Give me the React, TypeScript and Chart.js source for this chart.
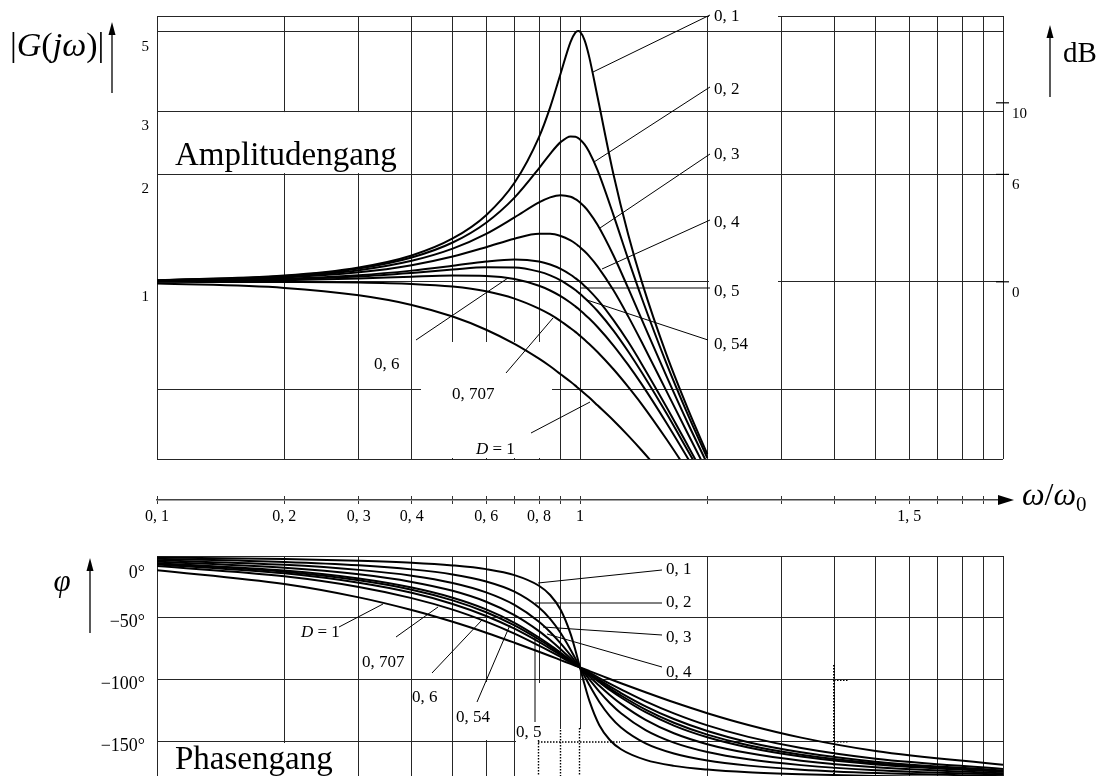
import React, { useEffect, useRef } from "react";
import { Chart, registerables } from "chart.js";

Chart.register(...registerables);

// ---------------- data ----------------
const dampingLabels = ["0, 1", "0, 2", "0, 3", "0, 4", "0, 5", "0, 54", "0, 6", "0, 707", "D = 1"];

// frequency ratio ω/ω0 at which the amplitude curves are read
const ampOmega = [0.1, 0.2, 0.3, 0.4, 0.5, 0.6, 0.7, 0.8, 0.85, 0.9, 0.95, 0.975, 0.99, 1, 1.025, 1.05, 1.1, 1.2, 1.3, 1.4, 1.6, 1.8, 2];
const ampD010 = [1.010, 1.041, 1.097, 1.185, 1.322, 1.536, 1.891, 2.538, 3.073, 3.821, 4.683, 4.971, 5.025, 5.000, 4.736, 4.279, 3.288, 1.995, 1.356, 1.000, 0.628, 0.441, 0.330];
const ampD020 = [1.009, 1.038, 1.090, 1.170, 1.288, 1.463, 1.719, 2.076, 2.279, 2.457, 2.549, 2.544, 2.522, 2.500, 2.421, 2.313, 2.051, 1.536, 1.157, 0.900, 0.593, 0.425, 0.322];
const ampD030 = [1.008, 1.034, 1.078, 1.145, 1.238, 1.362, 1.514, 1.667, 1.722, 1.747, 1.729, 1.703, 1.683, 1.667, 1.621, 1.567, 1.444, 1.185, 0.960, 0.784, 0.546, 0.402, 0.310];
const ampD040 = [1.007, 1.028, 1.063, 1.113, 1.177, 1.250, 1.320, 1.362, 1.362, 1.343, 1.305, 1.280, 1.262, 1.250, 1.217, 1.182, 1.105, 0.947, 0.801, 0.678, 0.496, 0.376, 0.294];
const ampD050 = [1.005, 1.020, 1.044, 1.075, 1.109, 1.140, 1.155, 1.140, 1.118, 1.087, 1.047, 1.024, 1.010, 1.000, 0.974, 0.948, 0.893, 0.782, 0.680, 0.589, 0.448, 0.348, 0.277];
const ampD054 = [1.004, 1.016, 1.035, 1.059, 1.082, 1.098, 1.097, 1.068, 1.043, 1.010, 0.970, 0.949, 0.935, 0.926, 0.902, 0.878, 0.829, 0.731, 0.639, 0.558, 0.430, 0.337, 0.271];
const ampD060 = [1.003, 1.011, 1.022, 1.034, 1.041, 1.038, 1.018, 0.975, 0.946, 0.912, 0.874, 0.854, 0.842, 0.833, 0.812, 0.791, 0.748, 0.664, 0.586, 0.517, 0.404, 0.321, 0.260];
const ampD0707 = [1.000, 0.999, 0.996, 0.987, 0.970, 0.941, 0.898, 0.842, 0.811, 0.777, 0.742, 0.725, 0.714, 0.707, 0.689, 0.672, 0.637, 0.570, 0.509, 0.455, 0.364, 0.295, 0.243];
const ampD100 = [0.990, 0.962, 0.917, 0.862, 0.800, 0.735, 0.671, 0.610, 0.581, 0.552, 0.526, 0.513, 0.505, 0.500, 0.488, 0.476, 0.452, 0.410, 0.372, 0.338, 0.281, 0.236, 0.200];

// frequency ratio ω/ω0 at which the phase curves are read (degrees)
const phaseOmega = [0.1, 0.2, 0.3, 0.4, 0.5, 0.6, 0.7, 0.8, 0.85, 0.9, 0.95, 0.975, 1, 1.026, 1.053, 1.111, 1.176, 1.25, 1.429, 1.667, 2, 2.5, 3.333, 5, 10];
const phD010 = [-1.2, -2.4, -3.8, -5.4, -7.6, -10.6, -15.4, -24.0, -31.5, -43.4, -62.8, -75.8, -90, -104.2, -117.2, -136.6, -148.5, -156.0, -164.6, -169.4, -172.4, -174.6, -176.2, -177.6, -178.8];
const phD020 = [-2.3, -4.8, -7.5, -10.8, -14.9, -20.6, -28.8, -41.6, -50.8, -62.2, -75.6, -82.8, -90, -97.2, -104.4, -117.8, -129.2, -138.4, -151.2, -159.4, -165.1, -169.2, -172.5, -175.2, -177.7];
const phD030 = [-3.5, -7.1, -11.2, -15.9, -21.8, -29.4, -39.5, -53.1, -61.4, -70.6, -80.3, -85.2, -90, -94.8, -99.7, -109.4, -118.6, -126.9, -140.5, -150.6, -158.2, -164.1, -168.8, -172.9, -176.5];
const phD040 = [-4.6, -9.5, -14.8, -20.9, -28.1, -36.9, -47.7, -60.6, -67.8, -75.2, -82.7, -86.4, -90, -93.6, -97.3, -104.8, -112.2, -119.4, -132.3, -143.1, -151.9, -159.1, -165.2, -170.5, -175.4];
const phD050 = [-5.8, -11.8, -18.2, -25.5, -33.7, -43.1, -53.9, -65.8, -71.9, -78.1, -84.1, -87.1, -90, -92.9, -95.9, -101.9, -108.1, -114.2, -126.1, -136.9, -146.3, -154.5, -161.8, -168.2, -174.2];
const phD054 = [-6.2, -12.7, -19.6, -27.2, -35.8, -45.4, -56.0, -67.4, -73.2, -78.9, -84.6, -87.3, -90, -92.7, -95.4, -101.1, -106.8, -112.6, -124.0, -134.6, -144.2, -152.8, -160.4, -167.3, -173.8];
const phD060 = [-6.9, -14.0, -21.6, -29.7, -38.7, -48.4, -58.7, -69.4, -74.8, -80.0, -85.1, -87.6, -90, -92.4, -94.9, -100.0, -105.2, -110.6, -121.3, -131.6, -141.3, -150.3, -158.4, -166.0, -173.1];
const phD0707 = [-8.1, -16.4, -25.0, -34.0, -43.3, -53.0, -62.7, -72.4, -77.0, -81.5, -85.9, -88.0, -90, -92.0, -94.1, -98.5, -103.0, -107.6, -117.3, -127.0, -136.7, -146.0, -155.0, -163.6, -171.9];
const phD100 = [-11.4, -22.6, -33.4, -43.6, -53.1, -61.9, -70.0, -77.3, -80.7, -84.0, -87.1, -88.6, -90, -91.4, -92.9, -96.0, -99.3, -102.7, -110.0, -118.1, -126.9, -136.4, -146.6, -157.4, -168.6];

// axes
const gridOmega = [0.1, 0.2, 0.3, 0.4, 0.5, 0.6, 0.7, 0.8, 0.9, 1, 2, 3, 4, 5, 6, 7, 8, 9, 10];
const axisTickValues = [0.1, 0.2, 0.3, 0.4, 0.5, 0.6, 0.7, 0.8, 0.9, 1, 2, 3, 4, 5, 6, 7, 8, 9];
const axisTickLabels = ["0, 1", "0, 2", "0, 3", "0, 4", "", "0, 6", "", "0, 8", "", "1", "", "", "", "", "1, 5", "", "", ""];
const ampGridValues = [0.5, 1, 2, 3, 5];
const ampTickValues = [5, 3, 2, 1];
const ampTickLabels = ["5", "3", "2", "1"];
const dbTickValues = [10, 6, 0];
const dbTickLabels = ["10", "6", "0"];
const phaseGridValues = [-150, -100, -50];
const phaseTickValues = [0, -50, -100, -150];
const phaseTickLabels = ["0°", "−50°", "−100°", "−150°"];

const AMP_MIN = 0.32;
const AMP_MAX = 5.53;
const DB_MIN = -9.9;
const DB_MAX = 14.85;
const PH_MIN = -180;
const PH_MAX = 0;

// ---------------- drawing helpers ----------------
const SERIF = '"Liberation Serif", "Times New Roman", serif';
const GRID = "#262626";
const fnt = (s: number, it = false) => `${it ? "italic " : ""}${s}px ${SERIF}`;

type Part = { t: string; s: number; it?: boolean; dy?: number };

function rich(ctx: any, parts: Part[], x: number, y: number, align = "left", base = "middle") {
  let w = 0;
  for (const p of parts) {
    ctx.font = fnt(p.s, p.it);
    w += ctx.measureText(p.t).width;
  }
  let cx = align === "left" ? x : align === "right" ? x - w : x - w / 2;
  ctx.save();
  ctx.fillStyle = "#000";
  ctx.textAlign = "left";
  ctx.textBaseline = base;
  for (const p of parts) {
    ctx.font = fnt(p.s, p.it);
    ctx.fillText(p.t, cx, y + (p.dy || 0));
    cx += ctx.measureText(p.t).width;
  }
  ctx.restore();
}

function seg(ctx: any, x1: number, y1: number, x2: number, y2: number, w = 1, color = "#000", dash: number[] = []) {
  ctx.save();
  ctx.beginPath();
  ctx.strokeStyle = color;
  ctx.lineWidth = w;
  ctx.setLineDash(dash);
  ctx.moveTo(x1, y1);
  ctx.lineTo(x2, y2);
  ctx.stroke();
  ctx.restore();
}

function arrowUp(ctx: any, x: number, top: number, bottom: number) {
  seg(ctx, x, bottom, x, top + 8, 1.3);
  ctx.save();
  ctx.fillStyle = "#000";
  ctx.beginPath();
  ctx.moveTo(x, top);
  ctx.lineTo(x - 3.5, top + 13);
  ctx.lineTo(x + 3.5, top + 13);
  ctx.closePath();
  ctx.fill();
  ctx.restore();
}

function label(ctx: any, text: string, x: number, y: number, size = 17) {
  if (text.startsWith("D")) {
    rich(ctx, [{ t: "D", s: size, it: true }, { t: " = 1", s: size }], x, y);
  } else {
    rich(ctx, [{ t: text, s: size }], x, y);
  }
}

const setTicks = (vals: number[]) => (s: any) => {
  s.ticks = vals.map((v) => ({ value: v }));
};

function curveSets(xs: number[], series: number[][]) {
  return series.map((ys, i) => ({
    label: dampingLabels[i],
    data: xs.map((x, k) => ({ x, y: ys[k] })),
    borderColor: "#000",
    borderWidth: 2,
    pointRadius: 0,
    fill: false,
    cubicInterpolationMode: "monotone",
    clip: 0,
  }));
}

const baseOpts = {
  animation: false,
  responsive: false,
  maintainAspectRatio: false,
  devicePixelRatio: 1,
  events: [],
  plugins: { legend: { display: false }, tooltip: { enabled: false }, title: { display: false } },
};

const xGridScale = () => ({
  type: "logarithmic",
  bounds: "data",
  min: 0.1,
  max: 10,
  position: "bottom",
  afterBuildTicks: setTicks(gridOmega),
  afterFit: (s: any) => { s.height = 0; },
  ticks: { display: false },
  grid: { color: GRID, lineWidth: 1, drawTicks: false },
  border: { display: false },
});

// ---------------- amplitude decoration ----------------
const ampNotes = [
  { i: 0, tx: 714, ty: 17, a: [593, 72], b: [710, 15] },
  { i: 1, tx: 714, ty: 90, a: [594, 162], b: [710, 87] },
  { i: 2, tx: 714, ty: 155, a: [600, 228], b: [710, 154] },
  { i: 3, tx: 714, ty: 223, a: [602, 269], b: [710, 220] },
  { i: 4, tx: 714, ty: 292, a: [580, 288], b: [710, 288] },
  { i: 5, tx: 714, ty: 345, a: [587, 300], b: [708, 340] },
  { i: 6, tx: 374, ty: 365, a: [416, 340], b: [508, 278] },
  { i: 7, tx: 452, ty: 395, a: [506, 373], b: [553, 318] },
  { i: 8, tx: 476, ty: 450, a: [531, 433], b: [590, 402] },
];

const ampDecor = {
  id: "ampDecor",
  beforeDatasetsDraw(chart: any) {
    const { ctx, chartArea: a, scales } = chart;
    const y3 = scales.y.getPixelForValue(3);
    const y2 = scales.y.getPixelForValue(2);
    ctx.save();
    ctx.fillStyle = "#fff";
    ctx.fillRect(a.left + 1, y3 + 1, 405 - a.left - 1, y2 - y3 - 2);
    ctx.fillRect(421, 342, 131, a.bottom - 342 - 1);
    ctx.fillRect(709, 0, 69, 27);
    ctx.fillRect(709, 277, 69, 20);
    ctx.restore();
  },
  afterDraw(chart: any) {
    const { ctx, chartArea: a, scales } = chart;
    for (const n of ampNotes) seg(ctx, n.a[0], n.a[1], n.b[0], n.b[1], 1);
    for (const n of ampNotes) label(ctx, dampingLabels[n.i], n.tx, n.ty);
    ampTickValues.forEach((v, i) => {
      rich(ctx, [{ t: ampTickLabels[i], s: 15 }], 149, scales.y.getPixelForValue(v) + 15, "right");
    });
    dbTickValues.forEach((v, i) => {
      const py = scales.db.getPixelForValue(v);
      seg(ctx, a.right - 7, py, a.right + 6, py, 1.2);
      rich(ctx, [{ t: dbTickLabels[i], s: 15 }], a.right + 9, py + 11);
    });
    rich(ctx, [{ t: "Amplitudengang", s: 33 }], 175, 165, "left", "alphabetic");
    rich(
      ctx,
      [
        { t: "|", s: 34 },
        { t: "G", s: 34, it: true },
        { t: "(", s: 34 },
        { t: "jω", s: 34, it: true },
        { t: ")", s: 34 },
        { t: "|", s: 34 },
      ],
      10,
      47
    );
    arrowUp(ctx, 112, 22, 93);
    rich(ctx, [{ t: "dB", s: 29 }], 1063, 54);
    arrowUp(ctx, 1050, 25, 97);
  },
};

// ---------------- middle axis decoration ----------------
const axisDecor = {
  id: "axisDecor",
  afterDraw(chart: any) {
    const { ctx, chartArea: a } = chart;
    const y = a.bottom;
    seg(ctx, a.right, y, 1001, y, 1.6, "#444");
    ctx.save();
    ctx.fillStyle = "#000";
    ctx.beginPath();
    ctx.moveTo(998, y - 5);
    ctx.lineTo(1014, y);
    ctx.lineTo(998, y + 5);
    ctx.closePath();
    ctx.fill();
    ctx.restore();
    rich(
      ctx,
      [
        { t: "ω", s: 32, it: true },
        { t: "/", s: 32 },
        { t: "ω", s: 32, it: true },
        { t: "0", s: 21, dy: 8 },
      ],
      1022,
      y - 3
    );
  },
};

// ---------------- phase decoration ----------------
const PH_TOP = 540;
const phaseNotes = [
  { i: 0, tx: 666, ty: 570, a: [538, 583], b: [662, 570] },
  { i: 1, tx: 666, ty: 603, a: [535, 603], b: [662, 603] },
  { i: 2, tx: 666, ty: 638, a: [543, 627], b: [662, 635] },
  { i: 3, tx: 666, ty: 673, a: [547, 634], b: [662, 667] },
  { i: 4, tx: 516, ty: 733, a: [535, 722], b: [535, 637] },
  { i: 5, tx: 456, ty: 718, a: [477, 702], b: [510, 625] },
  { i: 6, tx: 412, ty: 698, a: [432, 673], b: [482, 620] },
  { i: 7, tx: 362, ty: 663, a: [396, 637], b: [438, 607] },
  { i: 8, tx: 301, ty: 633, a: [339, 627], b: [383, 604] },
];

const phaseDecor = {
  id: "phaseDecor",
  beforeDatasetsDraw(chart: any) {
    const { ctx } = chart;
    const o = PH_TOP;
    ctx.save();
    ctx.fillStyle = "#fff";
    ctx.fillRect(158, 743 - o, 198, 60);
    ctx.fillRect(455, 682 - o, 40, 58);
    ctx.fillRect(532, 683 - o, 13, 120);
    ctx.fillRect(548, 729 - o, 73, 80);
    ctx.fillRect(516, 724 - o, 32, 80);
    ctx.restore();
    const dot = [1.5, 1.5];
    seg(ctx, 538.5, 740 - o, 538.5, 790 - o, 1.4, "#000", dot);
    seg(ctx, 560.5, 730 - o, 560.5, 790 - o, 1.4, "#000", dot);
    seg(ctx, 579.5, 728 - o, 579.5, 790 - o, 1.4, "#000", dot);
    seg(ctx, 538, 742 - o, 620, 742 - o, 1.4, "#000", dot);
    seg(ctx, 834, 665 - o, 834, 790 - o, 2, "#000", dot);
    seg(ctx, 834, 680.5 - o, 848, 680.5 - o, 1.2, "#000", dot);
    seg(ctx, 834, 742 - o, 848, 742 - o, 1.2, "#000", dot);
  },
  afterDraw(chart: any) {
    const { ctx, chartArea: a, scales } = chart;
    const o = PH_TOP;
    for (const n of phaseNotes) seg(ctx, n.a[0], n.a[1] - o, n.b[0], n.b[1] - o, 1);
    for (const n of phaseNotes) label(ctx, dampingLabels[n.i], n.tx, n.ty - o);
    phaseTickValues.forEach((v, i) => {
      const py = Math.max(scales.y.getPixelForValue(v) + 4, a.top + 17);
      rich(ctx, [{ t: phaseTickLabels[i], s: 18 }], 145, py, "right");
    });
    rich(ctx, [{ t: "φ", s: 31, it: true }], 62, 583 - o, "center");
    arrowUp(ctx, 90, 558 - o, 633 - o);
    rich(ctx, [{ t: "Phasengang", s: 33 }], 175, 769 - o, "left", "alphabetic");
  },
};

// ---------------- component ----------------
export default function App() {
  const ampRef = useRef<HTMLCanvasElement>(null);
  const axisRef = useRef<HTMLCanvasElement>(null);
  const phaseRef = useRef<HTMLCanvasElement>(null);

  useEffect(() => {
    const charts: any[] = [];

    charts.push(
      new Chart(ampRef.current as any, {
        type: "line",
        data: {
          datasets: curveSets(ampOmega, [ampD010, ampD020, ampD030, ampD040, ampD050, ampD054, ampD060, ampD0707, ampD100]) as any,
        },
        options: {
          ...baseOpts,
          layout: { padding: { left: 157, right: 107, top: 16, bottom: 11 } },
          scales: {
            x: xGridScale(),
            y: {
              type: "logarithmic",
              bounds: "data",
              min: AMP_MIN,
              max: AMP_MAX,
              position: "left",
              afterBuildTicks: setTicks([AMP_MIN, ...ampGridValues, AMP_MAX]),
              afterFit: (s: any) => { s.width = 0; },
              ticks: { display: false },
              grid: { color: GRID, lineWidth: 1, drawTicks: false },
              border: { display: false },
            },
            db: {
              type: "linear",
              bounds: "data",
              min: DB_MIN,
              max: DB_MAX,
              position: "right",
              afterFit: (s: any) => { s.width = 0; },
              ticks: { display: false },
              grid: { display: false, drawTicks: false },
              border: { display: false },
            },
          },
        } as any,
        plugins: [ampDecor],
      } as any)
    );

    charts.push(
      new Chart(axisRef.current as any, {
        type: "line",
        data: { datasets: [] },
        options: {
          ...baseOpts,
          layout: { padding: { left: 157, right: 107, top: 26, bottom: 0 } },
          scales: {
            x: {
              type: "logarithmic",
              bounds: "data",
              min: 0.1,
              max: 10,
              position: "bottom",
              afterBuildTicks: setTicks(axisTickValues),
              afterFit: (s: any) => { s.height = 40; },
              ticks: {
                autoSkip: false,
                maxRotation: 0,
                minRotation: 0,
                padding: 3,
                color: "#000",
                font: { family: SERIF, size: 16 },
                callback: (_v: any, i: number) => axisTickLabels[i],
              },
              grid: { color: "#333", lineWidth: 1, tickLength: 4, drawOnChartArea: true, drawTicks: true },
              border: { display: true, color: "#444", width: 1.6 },
            },
            y: { display: false, min: 0, max: 1 },
          },
        } as any,
        plugins: [axisDecor],
      } as any)
    );

    charts.push(
      new Chart(phaseRef.current as any, {
        type: "line",
        data: {
          datasets: curveSets(phaseOmega, [phD010, phD020, phD030, phD040, phD050, phD054, phD060, phD0707, phD100]) as any,
        },
        options: {
          ...baseOpts,
          layout: { padding: { left: 157, right: 107, top: 16, bottom: 11 } },
          scales: {
            x: xGridScale(),
            y: {
              type: "linear",
              bounds: "data",
              min: PH_MIN,
              max: PH_MAX,
              position: "left",
              afterBuildTicks: setTicks([PH_MIN, ...phaseGridValues, PH_MAX]),
              afterFit: (s: any) => { s.width = 0; },
              ticks: { display: false },
              grid: { color: GRID, lineWidth: 1, drawTicks: false },
              border: { display: false },
            },
          },
        } as any,
        plugins: [phaseDecor],
      } as any)
    );

    return () => charts.forEach((c) => c.destroy());
  }, []);

  const cv = (top: number, h: number) => ({
    position: "absolute" as const,
    left: 0,
    top,
    width: 1110,
    height: h,
    display: "block",
  });

  return (
    <div style={{ position: "fixed", left: 0, top: 0, width: 1110, height: 776, overflow: "hidden", background: "#fff" }}>
      <canvas ref={ampRef} width={1110} height={470} style={cv(0, 470)} />
      <canvas ref={axisRef} width={1110} height={70} style={cv(470, 70)} />
      <canvas ref={phaseRef} width={1110} height={250} style={cv(540, 250)} />
    </div>
  );
}
